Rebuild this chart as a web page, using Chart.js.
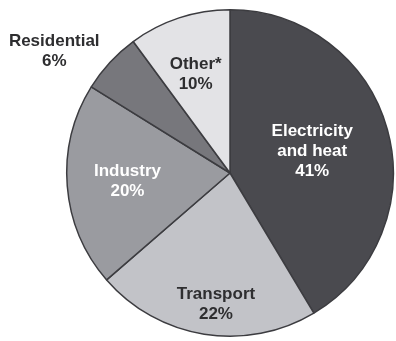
<!DOCTYPE html>
<html>
<head>
<meta charset="utf-8">
<style>
  html, body { margin: 0; padding: 0; background: #ffffff; }
  #wrap { width: 396px; height: 341px; position: relative; }
</style>
<script src="https://cdn.jsdelivr.net/npm/chart.js@4.4.1/dist/chart.umd.min.js"></script>
</head>
<body>
<div id="wrap"><canvas id="pie" width="396" height="341"></canvas></div>
<script>
  // emission shares by sector, clockwise from 12 o'clock
  const sectors = ['Electricity\nand heat', 'Transport', 'Industry', 'Residential', 'Other*'];
  const shares = [41, 22, 20, 6, 10];

  const fills = ['#4a4a4f', '#c2c3c8', '#9a9ba0', '#77777c', '#e3e3e6'];
  const textColors = ['#ffffff', '#2e2e30', '#ffffff', '#2e2e30', '#2e2e30'];
  // label placement: fraction of the radius, and an angle nudge in degrees
  const labelRadius = [0.52, 0.81, 0.63, 1.31, 0.64];
  const labelNudge = [1, -3, 0, -8, -1];

  const sliceLabels = {
    id: 'sliceLabels',
    afterDatasetsDraw(chart) {
      const { ctx } = chart;
      const arcs = chart.getDatasetMeta(0).data;
      ctx.save();
      ctx.font = 'bold 17px "Liberation Sans", Arial, sans-serif';
      ctx.textAlign = 'center';
      ctx.textBaseline = 'middle';
      arcs.forEach((arc, i) => {
        const { x, y, startAngle, endAngle, outerRadius } = arc.getProps(['x', 'y', 'startAngle', 'endAngle', 'outerRadius'], true);
        const mid = (startAngle + endAngle) / 2 + labelNudge[i] * Math.PI / 180;
        const r = outerRadius * labelRadius[i];
        const cx = x + Math.cos(mid) * r;
        const cy = y + Math.sin(mid) * r;
        const lines = sectors[i].split('\n').concat(shares[i] + '%');
        const lh = 20;
        const top = cy - (lines.length - 1) * lh / 2;
        ctx.fillStyle = textColors[i];
        lines.forEach((t, k) => ctx.fillText(t, cx, top + k * lh));
      });
      ctx.restore();
    }
  };

  new Chart(document.getElementById('pie'), {
    type: 'pie',
    data: {
      labels: sectors,
      datasets: [{
        data: shares,
        backgroundColor: fills,
        borderColor: '#3c3c40',
        borderWidth: 1.5
      }]
    },
    options: {
      responsive: false,
      animation: false,
      layout: { padding: { left: 66, right: 2, top: 7, bottom: 2 } },
      plugins: {
        legend: { display: false },
        tooltip: { enabled: false }
      }
    },
    plugins: [sliceLabels]
  });
</script>
</body>
</html>
